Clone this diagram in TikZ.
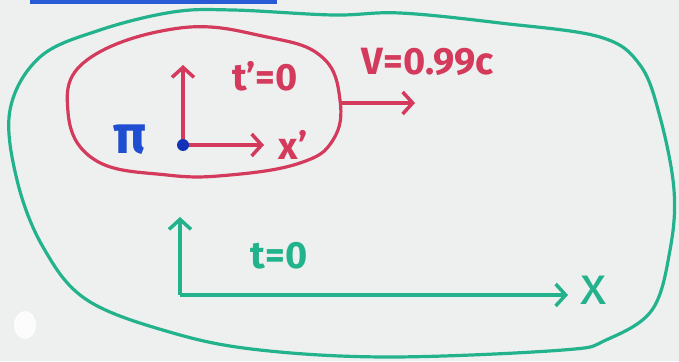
\documentclass[tikz,border=0pt]{standalone}
\usepackage{fontspec}
\setmainfont{Fira Sans}
\usetikzlibrary{arrows.meta}
\definecolor{paper}{HTML}{EEF0F0}
\definecolor{lab}{HTML}{22B38C}
\definecolor{ship}{HTML}{D33A5C}
\definecolor{pion}{HTML}{1F4FD0}
\definecolor{dotc}{HTML}{1432B8}
\definecolor{tape}{HTML}{2A5BD7}
\newcommand{\hand}{\fontsize{38}{42}\selectfont\bfseries}
\newcommand{\bighand}{\fontsize{54}{58}\selectfont}

\begin{document}
\begin{tikzpicture}[x=1pt,y=-1pt,font=\hand,
  axis/.style={line width=3.5pt,-{Straight Barb[length=10pt,width=22pt]}},
  loop/.style={line width=3.2pt,line join=round}]
\fill[paper] (0,0) rectangle (679,361);
\useasboundingbox (0,0) rectangle (679,361);
\fill[tape] (30,0) rectangle (277,4);
\fill[white,opacity=0.85] (25,325) ellipse (11 and 14);
% lab frame
\draw[lab,loop] plot[smooth cycle,tension=0.6] coordinates {(17,180) (10,110) (40,57) (100,30) (173,12) (233,10) (333,15) (400,13) (500,23) (600,37) (640,65) (660,117) (674,190) (670,250) (652,310) (606,340) (563,350) (390,357) (260,350) (173,333) (87,300) (43,247)};
\coordinate (lo) at (180,295);
\coordinate (lt) at (180,217);
\coordinate (lx) at (568,295);
\draw[lab,axis] (lo) -- (lt);
\draw[lab,axis] (lo) -- (lx);
\node[lab] (tl) at (279,256) {t=0};
\node[lab,font=\bighand] (xl) at (594,290) {x};
% moving frame
\draw[ship,loop] plot[smooth cycle,tension=0.7] coordinates {(68,112) (87,60) (180,28) (267,37) (322,57) (340,100) (333,140) (300,163) (230,175) (167,175) (95,160)};
\coordinate (po) at (183,145);
\coordinate (pt) at (183,65);
\coordinate (px) at (264,145);
\draw[ship,axis] (po) -- (pt);
\draw[ship,axis] (po) -- (px);
\fill[dotc] (po) circle (6);
\node[ship] (tp) at (265,76) {t'=0};
\node[ship] (xp) at (293,145) {x'};
\node[pion,font=\bighand\bfseries] (pi) at (130,140) {π};
\coordinate (vs) at (341,103);
\coordinate (ve) at (415,103);
\draw[ship,axis] (vs) -- (ve);
\node[ship] (vel) at (428,62) {V=0.99c};
\end{tikzpicture}
\end{document}
